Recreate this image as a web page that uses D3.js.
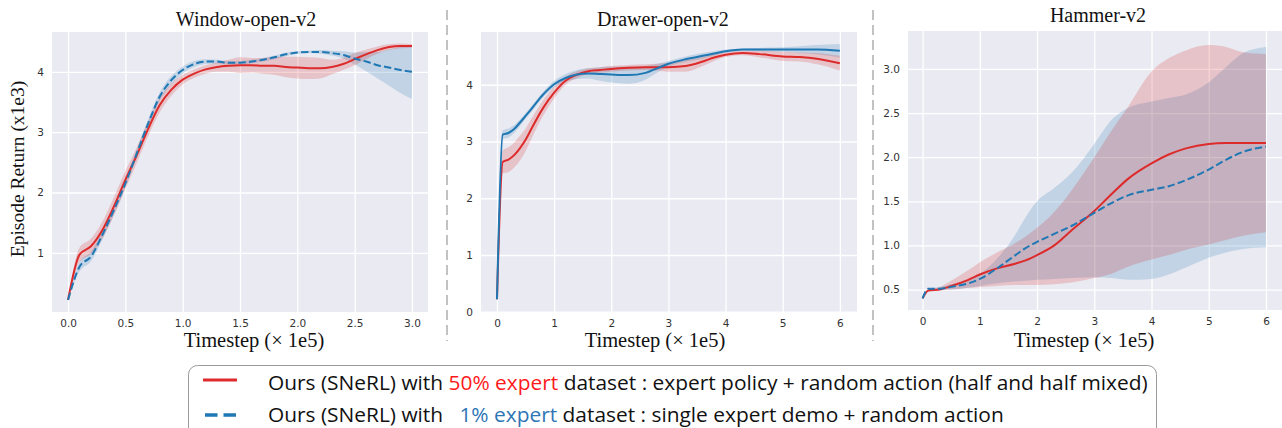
<!DOCTYPE html>
<html>
<head>
<meta charset="utf-8">
<script src="https://cdn.jsdelivr.net/npm/d3@7"></script>
<style>
  html, body { margin: 0; padding: 0; background: #ffffff; }
  svg { display: block; }
</style>
</head>
<body>
<svg id="chart" width="1282" height="428"></svg>
<script>
// ---------------- DATA ----------------
// Window-open-v2
const winX       = [0,0.1,0.2,0.3,0.4,0.5,0.6,0.7,0.8,0.9,1.0,1.1,1.2,1.3,1.4,1.5,1.6,1.7,1.8,1.9,2.0,2.1,2.2,2.3,2.4,2.5,2.6,2.7,2.8,2.9,3.0];
const winRed     = [0.22,0.97,1.11,1.38,1.77,2.21,2.62,3.06,3.45,3.70,3.87,3.97,4.04,4.08,4.10,4.11,4.11,4.10,4.10,4.08,4.07,4.06,4.06,4.08,4.13,4.21,4.29,4.36,4.41,4.43,4.43];
const winRedStd  = [0,0.12,0.13,0.14,0.15,0.15,0.13,0.12,0.12,0.10,0.08,0.07,0.07,0.08,0.10,0.13,0.12,0.13,0.15,0.17,0.18,0.18,0.17,0.12,0.10,0.10,0.08,0.06,0.05,0.04,0.03];
const winBlue    = [0.22,0.77,0.94,1.30,1.71,2.15,2.65,3.15,3.59,3.86,4.03,4.13,4.17,4.17,4.15,4.15,4.17,4.20,4.24,4.29,4.32,4.33,4.33,4.31,4.28,4.22,4.17,4.11,4.07,4.03,4.00];
const winBlueStd = [0,0.08,0.08,0.08,0.08,0.07,0.07,0.07,0.07,0.07,0.06,0.05,0.04,0.03,0.03,0.03,0.03,0.03,0.03,0.03,0.02,0.02,0.03,0.04,0.06,0.10,0.16,0.22,0.30,0.38,0.45];
const winXTicks  = [0,0.5,1.0,1.5,2.0,2.5,3.0];
const winYTicks  = [1,2,3,4];

// Drawer-open-v2
const drwX       = [0,0.1,0.2,0.3,0.4,0.5,0.6,0.8,1.0,1.2,1.4,1.6,1.8,2.0,2.3,2.6,2.8,3.0,3.3,3.6,3.8,4.0,4.3,4.6,5.0,5.3,5.6,6.0];
const drwRed     = [0.22,2.64,2.68,2.76,2.88,3.03,3.22,3.58,3.86,4.07,4.18,4.24,4.26,4.28,4.30,4.31,4.31,4.31,4.33,4.41,4.48,4.53,4.56,4.54,4.50,4.49,4.46,4.38];
const drwRedStd  = [0,0.20,0.22,0.22,0.22,0.20,0.18,0.14,0.10,0.07,0.06,0.05,0.05,0.05,0.05,0.05,0.06,0.08,0.10,0.08,0.06,0.04,0.04,0.06,0.08,0.08,0.10,0.13];
const drwBlue    = [0.22,3.12,3.15,3.22,3.33,3.45,3.57,3.82,4.01,4.12,4.18,4.20,4.19,4.18,4.17,4.21,4.29,4.37,4.45,4.51,4.55,4.59,4.62,4.62,4.62,4.62,4.62,4.60];
const drwBlueStd = [0,0.08,0.08,0.07,0.06,0.05,0.05,0.05,0.06,0.07,0.08,0.09,0.12,0.14,0.15,0.12,0.08,0.05,0.05,0.05,0.04,0.03,0.02,0.03,0.04,0.06,0.08,0.12];
const drwXTicks  = [0,1,2,3,4,5,6];
const drwYTicks  = [0,1,2,3,4];

// Hammer-v2
const hamX       = [0,0.1,0.3,0.5,0.8,1.0,1.3,1.6,1.8,2.0,2.3,2.6,3.0,3.3,3.6,4.0,4.3,4.6,5.0,5.3,5.6,6.0];
const hamRed     = [0.40,0.49,0.50,0.54,0.61,0.67,0.74,0.79,0.83,0.89,1.00,1.17,1.39,1.58,1.76,1.93,2.03,2.10,2.15,2.16,2.16,2.16];
const hamRedHi   = [0.40,0.50,0.53,0.60,0.72,0.81,0.92,1.02,1.10,1.20,1.38,1.62,2.00,2.30,2.58,2.97,3.12,3.21,3.27,3.25,3.19,3.17];
const hamRedLo   = [0.40,0.48,0.49,0.50,0.52,0.53,0.54,0.55,0.55,0.55,0.56,0.58,0.63,0.68,0.76,0.84,0.89,0.95,1.01,1.06,1.11,1.15];
const hamBlue    = [0.40,0.51,0.51,0.53,0.57,0.62,0.74,0.88,0.97,1.04,1.13,1.22,1.37,1.48,1.57,1.63,1.67,1.74,1.86,1.97,2.06,2.12];
const hamBlueHi  = [0.40,0.51,0.53,0.56,0.62,0.68,0.85,1.10,1.32,1.50,1.65,1.82,2.15,2.42,2.56,2.63,2.67,2.71,2.85,3.02,3.18,3.25];
const hamBlueLo  = [0.40,0.50,0.50,0.50,0.52,0.54,0.57,0.59,0.60,0.61,0.62,0.63,0.64,0.63,0.61,0.62,0.67,0.75,0.86,0.92,0.96,0.98];
const hamXTicks  = [0,1,2,3,4,5,6];
const hamYTicks  = [0.5,1.0,1.5,2.0,2.5,3.0];

const titles = ["Window-open-v2","Drawer-open-v2","Hammer-v2"];
const xLabel = "Timestep (\u00D7 1e5)";
const yLabel = "Episode Return (x1e3)";
const legendLine1 = ["Ours (SNeRL) with ", "50% expert", " dataset : expert policy + random action (half and half mixed)"];
const legendLine2 = ["Ours (SNeRL) with   ", "1% expert", " dataset : single expert demo + random action"];

// ---------------- STYLE ----------------
const RED = "#dd2a2b", BLUE = "#1f77b4";
const RED_FILL = "rgba(214,39,40,0.2)", BLUE_FILL = "rgba(31,119,180,0.2)";
const BG = "#eaeaf2";
const SERIF = "'Liberation Serif','Times New Roman',serif";
const SANS = "'DejaVu Sans',sans-serif";

const svg = d3.select("#chart");

function sym(x, m, s) { return x.map((v,i)=>({x:v, m:m[i], lo:m[i]-s[i], hi:m[i]+s[i]})); }
function asym(x, m, lo, hi) { return x.map((v,i)=>({x:v, m:m[i], lo:lo[i], hi:hi[i]})); }

const panels = [
  { title: titles[0], left: 52, right: 428, top: 32, bottom: 312, xDom: [-0.14, 3.14], yDom: [0.02, 4.66],
    xTicks: winXTicks, yTicks: winYTicks, xFmt: d3.format(".1f"), yFmt: d3.format("d"),
    red: sym(winX, winRed, winRedStd), blue: sym(winX, winBlue, winBlueStd), blueDash: true,
    titleX: 246, titleY: 26, xlabX: 254, xlabY: 347, ylab: true },
  { title: titles[1], left: 481, right: 857, top: 32, bottom: 312, xDom: [-0.28, 6.3], yDom: [-0.005, 4.93],
    xTicks: drwXTicks, yTicks: drwYTicks, xFmt: d3.format("d"), yFmt: d3.format("d"),
    red: sym(drwX, drwRed, drwRedStd), blue: sym(drwX, drwBlue, drwBlueStd), blueDash: false,
    titleX: 663, titleY: 26, xlabX: 655, xlabY: 347, ylab: false },
  { title: titles[2], left: 908, right: 1282, top: 31, bottom: 310, xDom: [-0.255, 6.28], yDom: [0.268, 3.43],
    xTicks: hamXTicks, yTicks: hamYTicks, xFmt: d3.format("d"), yFmt: d3.format(".1f"),
    red: asym(hamX, hamRed, hamRedLo, hamRedHi), blue: asym(hamX, hamBlue, hamBlueLo, hamBlueHi), blueDash: true,
    titleX: 1098, titleY: 22, xlabX: 1084, xlabY: 347, ylab: false }
];

panels.forEach((p, idx) => {
  const x = d3.scaleLinear().domain(p.xDom).range([p.left, p.right]);
  const y = d3.scaleLinear().domain(p.yDom).range([p.bottom, p.top]);
  const w = p.right - p.left, h = p.bottom - p.top;
  const g = svg.append("g");

  const clipId = "clip" + idx;
  svg.append("clipPath").attr("id", clipId)
    .append("rect").attr("x", p.left).attr("y", p.top).attr("width", w).attr("height", h);

  g.append("rect").attr("x", p.left).attr("y", p.top).attr("width", w).attr("height", h).attr("fill", BG);

  // grid via axes
  const gx = g.append("g").attr("transform", `translate(0,${p.bottom})`)
    .call(d3.axisBottom(x).tickValues(p.xTicks).tickSize(-h).tickPadding(8).tickFormat(p.xFmt));
  const gy = g.append("g").attr("transform", `translate(${p.left},0)`)
    .call(d3.axisLeft(y).tickValues(p.yTicks).tickSize(-w).tickPadding(8).tickFormat(p.yFmt));
  [gx, gy].forEach(a => {
    a.select(".domain").remove();
    a.selectAll(".tick line").attr("stroke", "#ffffff").attr("stroke-width", 1.3);
    a.selectAll(".tick text").attr("fill", "#333").style("font-family", SANS).style("font-size", "10.5px");
  });

  const plot = g.append("g").attr("clip-path", `url(#${clipId})`);
  const area = d3.area().x(d => x(d.x)).y0(d => y(d.lo)).y1(d => y(d.hi)).curve(d3.curveMonotoneX);
  const line = d3.line().x(d => x(d.x)).y(d => y(d.m)).curve(d3.curveMonotoneX);

  plot.append("path").datum(p.blue).attr("d", area).attr("fill", BLUE_FILL);
  plot.append("path").datum(p.red).attr("d", area).attr("fill", RED_FILL);
  plot.append("path").datum(p.red).attr("d", line).attr("fill", "none")
    .attr("stroke", RED).attr("stroke-width", 2);
  plot.append("path").datum(p.blue).attr("d", line).attr("fill", "none")
    .attr("stroke", BLUE).attr("stroke-width", 2)
    .attr("stroke-dasharray", p.blueDash ? "7.4,3.2" : null);

  g.append("text").attr("x", p.titleX).attr("y", p.titleY).attr("text-anchor", "middle")
    .style("font-family", SERIF).style("font-size", "20px").attr("fill", "#111").text(p.title);
  g.append("text").attr("x", p.xlabX).attr("y", p.xlabY).attr("text-anchor", "middle")
    .style("font-family", SERIF).style("font-size", "20.5px").attr("fill", "#111").text(xLabel);
  if (p.ylab) {
    g.append("text").attr("transform", "translate(24,169) rotate(-90)").attr("text-anchor", "middle")
      .style("font-family", SERIF).style("font-size", "19.5px").attr("fill", "#111").text(yLabel);
  }
});

// dashed separators
[447, 873].forEach(sx => {
  svg.append("line").attr("x1", sx).attr("x2", sx).attr("y1", 10).attr("y2", 341)
    .attr("stroke", "#c2c2c2").attr("stroke-width", 2).attr("stroke-dasharray", "10,5");
});

// legend
const lg = svg.append("g");
lg.append("rect").attr("x", 188.5).attr("y", 365.5).attr("width", 968).attr("height", 90).attr("rx", 9)
  .attr("fill", "#fff").attr("stroke", "#9a9a9a").attr("stroke-width", 1);
lg.append("line").attr("x1", 203).attr("x2", 237).attr("y1", 380).attr("y2", 380)
  .attr("stroke", RED).attr("stroke-width", 3);
lg.append("line").attr("x1", 205).attr("x2", 237).attr("y1", 415).attr("y2", 415)
  .attr("stroke", BLUE).attr("stroke-width", 3.5).attr("stroke-dasharray", "12.5,6");

function legendText(parts, col) {
  const t = lg.append("text").attr("x", 0).attr("y", 0)
    .style("font-family", "'Open Sans','Noto Sans',sans-serif").style("font-size", "20.5px")
    .style("white-space", "pre").attr("fill", "#111");
  parts.forEach((s, i) => {
    t.append("tspan").attr("fill", i === 1 ? col : "#111").text(s);
  });
  return t;
}
const t1 = legendText(legendLine1, "#ff1a1a");
const t2 = legendText(legendLine2, "#2e75b6");
const w1 = t1.node().getComputedTextLength();
const f = 880 / w1;
t1.attr("transform", `translate(268,390) scale(${f},1)`);
t2.attr("transform", `translate(268,422) scale(${f},1)`);
</script>
</body>
</html>
